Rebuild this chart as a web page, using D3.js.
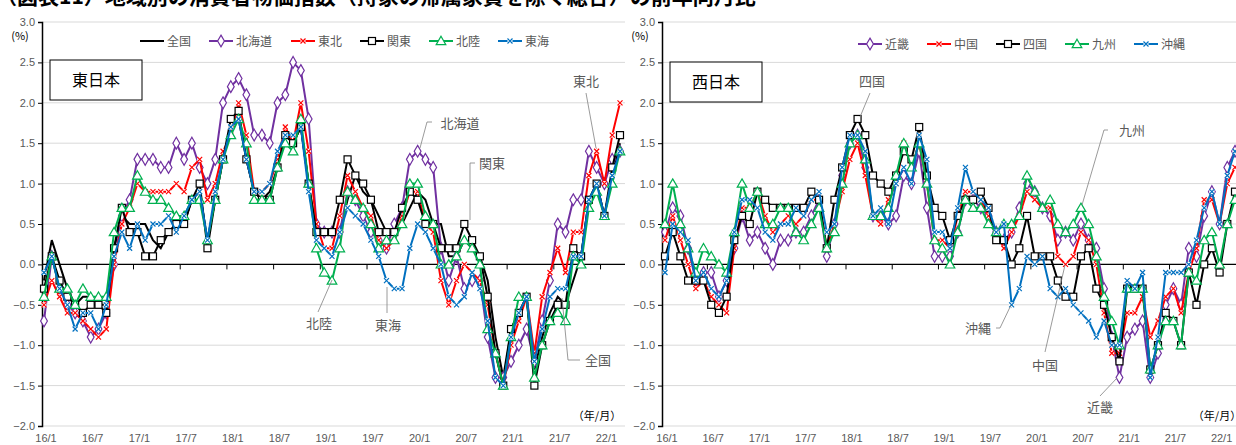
<!DOCTYPE html>
<html><head><meta charset="utf-8">
<script src="https://cdn.jsdelivr.net/npm/d3@7"></script>
<style>body{margin:0;background:#fff;font-family:"Noto Sans CJK JP","Noto Sans",sans-serif}</style>
</head><body><svg id="c" width="1236" height="445"></svg>
<script>
// monthly, 16/1 .. 22/3 (75 points)
const tickLabels = ["16/1","16/7","17/1","17/7","18/1","18/7","19/1","19/7","20/1","20/7","21/1","21/7","22/1"];
const yTicks = [3.0,2.5,2.0,1.5,1.0,0.5,0.0,-0.5,-1.0,-1.5,-2.0];

const zenkoku = [-0.2,0.3,0.0,-0.3,-0.5,-0.4,-0.4,-0.5,-0.5,0.2,0.6,0.5,0.5,0.5,0.3,0.2,0.4,0.5,0.5,0.8,0.9,0.3,0.8,1.3,1.7,1.8,1.3,0.9,0.8,0.9,1.2,1.6,1.5,1.7,1.0,0.4,0.4,0.4,0.4,0.8,1.1,0.9,0.8,0.6,0.4,0.4,0.5,0.7,0.9,0.8,0.5,0.5,0.1,0.1,0.3,0.2,0.1,-0.2,-0.9,-1.4,-0.8,-0.6,-0.4,-1.3,-0.9,-0.6,-0.4,-0.5,-0.2,0.1,0.8,1.0,0.6,1.1,1.5];
const hokkaido = [-0.7,0.1,-0.3,-0.5,-0.6,-0.7,-0.9,-0.8,-0.6,0.0,0.6,0.8,1.3,1.3,1.3,1.2,1.2,1.5,1.3,1.5,1.2,1.0,1.3,2.0,2.2,2.3,2.1,1.6,1.6,1.5,2.0,2.1,2.5,2.4,1.8,0.5,0.4,0.4,0.4,0.9,0.8,0.6,0.4,0.3,0.2,0.5,0.7,1.3,1.4,1.3,1.2,0.2,-0.2,0.1,-0.3,-0.2,-0.2,-0.9,-1.4,-1.4,-1.2,-1.0,-0.8,-1.2,-0.7,-0.2,0.5,0.4,0.8,0.8,1.4,1.2,1.0,1.3,1.4];
const tohoku = [-0.5,-0.2,-0.4,-0.6,-0.6,-0.7,-0.8,-0.9,-0.8,0.0,0.5,0.7,1.0,0.9,0.9,0.9,0.9,1.0,0.9,1.2,1.3,0.8,1.0,1.4,1.6,2.0,1.6,0.9,0.9,1.0,1.3,1.7,1.5,2.0,1.4,0.5,0.2,0.2,0.6,1.1,0.9,0.7,0.6,0.3,0.2,0.3,0.6,0.9,0.9,0.5,0.4,-0.2,-0.5,-0.2,0.0,-0.1,-0.2,-0.5,-1.1,-1.5,-1.0,-0.7,-0.4,-1.1,-0.4,-0.1,0.2,-0.1,0.4,0.4,1.1,1.4,1.0,1.6,2.0];
const kanto = [-0.3,0.1,-0.2,-0.4,-0.5,-0.6,-0.5,-0.5,-0.6,0.2,0.7,0.4,0.4,0.1,0.1,0.3,0.4,0.5,0.5,0.8,1.0,0.2,0.8,1.3,1.8,1.9,1.3,0.9,0.8,0.8,1.2,1.6,1.5,1.7,1.0,0.4,0.4,0.4,0.8,1.3,1.1,1.0,0.8,0.4,0.4,0.4,0.7,0.9,0.8,0.5,0.5,0.2,0.2,0.2,0.5,0.3,0.1,-0.4,-1.1,-1.5,-0.8,-0.6,-0.4,-1.5,-1.0,-0.7,-0.5,-0.5,0.2,0.1,0.8,1.0,0.6,1.2,1.6];
const hokuriku = [-0.4,0.1,-0.3,-0.3,-0.5,-0.3,-0.4,-0.4,-0.4,0.4,0.7,0.7,1.1,0.9,0.8,0.8,0.7,0.6,0.6,0.8,0.8,0.3,0.8,1.3,1.6,1.8,1.5,0.8,0.8,0.8,1.2,1.5,1.4,1.8,1.0,0.2,-0.1,-0.2,0.2,0.9,0.8,0.7,0.5,0.2,0.3,0.3,0.5,1.0,1.0,0.6,0.5,0.0,0.0,0.1,0.3,0.2,0.0,-0.8,-1.1,-1.5,-0.9,-0.4,-0.4,-1.4,-1.0,-0.7,-0.6,-0.7,0.1,0.0,0.7,0.9,0.6,1.0,1.4];
const tokai = [-0.1,0.1,-0.3,-0.5,-0.8,-0.6,-0.6,-0.8,-0.5,0.1,0.4,0.2,0.5,0.3,0.5,0.5,0.6,0.4,0.6,0.8,0.9,0.3,0.9,1.3,1.7,1.8,1.3,0.9,0.9,1.0,1.4,1.6,1.6,1.7,0.9,0.3,0.2,0.1,0.4,0.7,0.6,0.5,0.3,0.1,-0.2,-0.3,-0.3,0.2,0.5,0.4,0.2,0.0,-0.4,-0.5,-0.4,-0.1,-0.3,-0.7,-1.4,-1.5,-0.9,-0.6,-0.4,-1.2,-0.8,-0.4,-0.3,-0.3,0.1,0.1,0.8,1.0,0.6,1.1,1.4];

const kinki = [0.4,0.7,0.6,0.2,-0.2,-0.1,-0.1,-0.4,-0.2,0.2,0.6,0.3,0.4,0.2,0.0,0.3,0.3,0.4,0.4,0.6,0.8,0.1,0.5,1.1,1.5,1.6,1.2,0.6,0.6,0.5,0.6,1.1,1.0,1.4,0.7,0.1,0.1,0.1,0.4,0.8,0.8,0.7,0.6,0.4,0.3,0.4,0.7,1.0,0.9,0.7,0.6,0.3,0.4,0.3,0.5,0.3,0.2,-0.3,-0.9,-1.4,-0.9,-0.8,-0.7,-1.4,-1.1,-0.5,-0.3,-0.5,0.2,0.1,0.6,0.9,0.5,1.2,1.4];
const chugoku = [0.3,0.6,0.3,0.0,-0.3,-0.2,-0.4,-0.5,-0.6,0.2,0.7,0.7,0.9,0.6,0.4,0.5,0.6,0.5,0.6,0.8,0.8,0.2,0.5,0.9,1.3,1.5,1.1,0.6,0.5,0.8,1.0,1.5,1.2,1.5,1.0,0.3,0.3,0.2,0.6,0.9,0.9,0.8,0.6,0.4,0.2,0.4,0.6,0.9,0.8,0.7,0.7,0.1,0.0,0.1,0.4,0.3,0.0,-0.6,-1.1,-1.1,-0.6,-0.6,-0.4,-0.9,-0.7,-0.4,-0.3,-0.6,-0.1,0.2,0.8,0.8,0.5,1.0,1.2];
const shikoku = [0.1,0.4,0.1,-0.2,-0.2,-0.2,-0.5,-0.6,-0.4,0.3,0.6,0.5,0.9,0.8,0.7,0.7,0.7,0.7,0.7,0.9,0.8,0.2,0.8,1.2,1.6,1.8,1.6,1.1,1.0,0.9,1.1,1.4,1.3,1.7,1.1,0.7,0.6,0.3,0.6,0.8,0.8,0.9,0.7,0.3,0.3,0.0,0.2,0.6,0.1,0.1,0.1,-0.2,-0.4,-0.4,0.1,0.2,-0.3,-0.5,-0.9,-1.2,-0.3,-0.3,-0.3,-1.3,-1.0,-0.6,-0.7,-1.0,-0.1,-0.5,0.0,0.2,-0.1,0.5,0.9];
const kyushu = [0.5,1.0,0.5,0.2,-0.1,0.2,0.1,0.0,-0.1,0.4,1.0,0.7,0.9,0.5,0.5,0.7,0.7,0.4,0.3,0.5,0.7,0.2,0.4,1.0,1.5,1.6,1.3,0.6,0.6,0.7,1.1,1.5,1.2,1.5,1.0,0.3,0.2,0.0,0.4,0.8,0.7,0.7,0.5,0.4,0.5,0.5,0.6,1.1,0.9,0.7,0.8,0.5,0.4,0.5,0.7,0.5,0.1,-0.4,-0.7,-1.0,-0.3,-0.3,-0.3,-1.3,-1.0,-0.7,-0.7,-1.0,-0.1,-0.2,0.3,0.4,0.0,0.5,0.8];
const okinawa = [-0.1,0.5,0.4,0.3,-0.2,-0.1,-0.3,-0.4,-0.2,0.4,0.8,0.8,0.7,0.4,0.3,0.5,0.5,0.7,0.6,0.8,0.9,0.4,0.5,1.2,1.6,1.6,1.4,0.6,0.7,0.5,1.0,1.2,1.0,1.6,1.3,0.4,0.4,0.2,0.7,1.2,0.9,0.8,0.7,0.4,0.5,-0.5,-0.3,0.1,0.0,0.1,-0.3,-0.4,-0.3,-0.5,-0.6,-0.7,-0.9,-0.7,-1.0,-1.0,-0.2,-0.3,-0.1,-1.4,-0.9,-0.1,-0.1,-0.1,0.0,0.3,0.7,0.9,0.5,1.1,1.4];

const C = {black:"#000000", purple:"#7030a0", red:"#ff0000", green:"#00b050", blue:"#0070c0"};
const east = [
  {name:"全国", v:zenkoku, c:C.black, m:"none"},
  {name:"北海道", v:hokkaido, c:C.purple, m:"diamond"},
  {name:"東北", v:tohoku, c:C.red, m:"x"},
  {name:"関東", v:kanto, c:C.black, m:"square"},
  {name:"北陸", v:hokuriku, c:C.green, m:"triangle"},
  {name:"東海", v:tokai, c:C.blue, m:"x"}
];
const west = [
  {name:"近畿", v:kinki, c:C.purple, m:"diamond"},
  {name:"中国", v:chugoku, c:C.red, m:"x"},
  {name:"四国", v:shikoku, c:C.black, m:"square"},
  {name:"九州", v:kyushu, c:C.green, m:"triangle"},
  {name:"沖縄", v:okinawa, c:C.blue, m:"x"}
];

const svg = d3.select("#c");
const txt = "#595959";

svg.append("text").attr("x",-4).attr("y",4).attr("font-size",21).attr("font-weight","bold")
  .text("（図表11）地域別の消費者物価指数（持家の帰属家賃を除く総合）の前年同月比");

function marker(g, type, x, y, col) {
  if (type === "diamond") g.append("path").attr("d", d3.symbol(d3.symbolDiamond, 40)()).attr("transform",`translate(${x},${y})`).attr("fill","#fff").attr("stroke",col).attr("stroke-width",1.2);
  else if (type === "square") g.append("rect").attr("x",x-3.5).attr("y",y-3.5).attr("width",7).attr("height",7).attr("fill","#fff").attr("stroke",col).attr("stroke-width",1.2);
  else if (type === "triangle") g.append("path").attr("d", d3.symbol(d3.symbolTriangle, 40)()).attr("transform",`translate(${x},${y+0.8})`).attr("fill","#fff").attr("stroke",col).attr("stroke-width",1.2);
  else if (type === "x") {
    g.append("rect").attr("x",x-2.5).attr("y",y-2.5).attr("width",5).attr("height",5).attr("fill","#fff");
    g.append("path").attr("d",`M${x-2.5},${y-2.5}L${x+2.5},${y+2.5}M${x-2.5},${y+2.5}L${x+2.5},${y-2.5}`).attr("stroke",col).attr("stroke-width",1.2);
  }
}

function panel(o) {
  const g = svg.append("g");
  const n = o.series[0].v.length;
  const x = d3.scalePoint().domain(d3.range(n)).range([o.x0, o.x1]);
  const y = d3.scaleLinear().domain([-2, 3]).range([426, 22]);
  const step = x.step();
  // grid
  g.selectAll(".grid").data(yTicks).join("line")
    .attr("x1", o.ax).attr("x2", o.right).attr("y1", d => y(d)).attr("y2", d => y(d))
    .attr("stroke", "#d9d9d9").attr("stroke-width", 1);
  // y axis
  const ya = g.append("g").attr("transform",`translate(${o.ax},0)`)
    .call(d3.axisLeft(y).tickValues(yTicks).tickFormat(d3.format(".1f")).tickSize(4));
  ya.select(".domain").attr("stroke","#000").attr("stroke-width",1.5);
  ya.selectAll(".tick line").attr("stroke","#000");
  ya.selectAll("text").attr("fill",txt).attr("font-size",11).attr("font-family","Liberation Sans Narrow, Liberation Sans, sans-serif");
  g.append("text").attr("x", o.ax-22).attr("y", 40).attr("font-size",11).attr("fill","#000").attr("text-anchor","middle").text("(%)");
  // zero axis with ticks
  g.append("line").attr("x1",o.ax).attr("x2",o.right).attr("y1",y(0)).attr("y2",y(0)).attr("stroke","#000").attr("stroke-width",1.2);
  const tickIdx = d3.range(0, n, 6);
  g.selectAll(".zt").data(tickIdx.slice(1)).join("line")
    .attr("x1", d => x(d) - step/2).attr("x2", d => x(d) - step/2)
    .attr("y1", y(0)).attr("y2", y(0)+5).attr("stroke","#000");
  g.selectAll(".xl").data(tickIdx).join("text")
    .attr("x", d => x(d)+2).attr("y", 442).attr("text-anchor","middle")
    .attr("font-size",11).attr("fill",txt).attr("font-family","Liberation Sans Narrow, Liberation Sans, sans-serif")
    .text((d,i) => tickLabels[i]);
  g.append("text").attr("x", o.ax + 555).attr("y", 420).attr("font-size",11).attr("fill","#000").attr("text-anchor","middle").text("（年/月）");
  // box label
  g.append("rect").attr("x",o.box[0]).attr("y",o.box[1]).attr("width",92).attr("height",40).attr("fill","#fff").attr("stroke","#000");
  g.append("text").attr("x",o.box[0]+46).attr("y",o.box[1]+26).attr("text-anchor","middle").attr("font-size",16).text(o.title);
  // lines (draw in reverse so first series on top like Excel? keep order)
  const line = d3.line().x((d,i) => x(i)).y(d => y(d));
  o.series.forEach(s => {
    g.append("path").attr("d", line(s.v)).attr("fill","none").attr("stroke",s.c).attr("stroke-width",2);
    if (s.m !== "none") s.v.forEach((d,i) => marker(g, s.m, x(i), y(d), s.c));
  });
  // legend
  let lx = o.legX;
  o.series.forEach(s => {
    g.append("line").attr("x1",lx).attr("x2",lx+24).attr("y1",o.legY).attr("y2",o.legY).attr("stroke",s.c).attr("stroke-width",2);
    if (s.m !== "none") marker(g, s.m, lx+12, o.legY, s.c);
    g.append("text").attr("x",lx+27).attr("y",o.legY+4.5).attr("font-size",12).attr("fill",txt).text(s.name);
    lx += 27 + s.name.length*13 + 16;
  });
  // annotations
  o.notes.forEach(a => {
    g.append("polyline").attr("points", a.p.map(p=>p.join(",")).join(" ")).attr("fill","none").attr("stroke","#808080").attr("stroke-width",0.8);
    g.append("text").attr("x",a.t[0]).attr("y",a.t[1]).attr("font-size",13).attr("fill",txt).attr("text-anchor","middle").text(a.name);
  });
}

panel({series:east, x0:44, x1:620, ax:42, right:625, legX:140, legY:41, box:[50,60], title:"東日本",
  notes:[
    {name:"北海道", t:[460,128], p:[[432,122],[427,122],[420,148]]},
    {name:"関東", t:[492,168], p:[[475,163],[470,163],[470,220]]},
    {name:"北陸", t:[319,328], p:[[318,312],[332,280]]},
    {name:"東海", t:[388,330], p:[[387,313],[387,287]]},
    {name:"東北", t:[586,86], p:[[586,93],[596,148]]},
    {name:"全国", t:[598,365], p:[[580,360],[568,360],[562,298]]}
  ]});
panel({series:west, x0:665, x1:1235, ax:662, right:1236, legX:858, legY:44, box:[670,62], title:"西日本",
  notes:[
    {name:"四国", t:[872,86], p:[[870,93],[860,117]]},
    {name:"九州", t:[1132,135], p:[[1108,130],[1104,130],[1082,205]]},
    {name:"沖縄", t:[978,333], p:[[996,328],[1000,328],[1011,305]]},
    {name:"中国", t:[1045,370], p:[[1045,352],[1065,265]]},
    {name:"近畿", t:[1100,412], p:[[1100,396],[1117,378]]}
  ]});
</script></body></html>
